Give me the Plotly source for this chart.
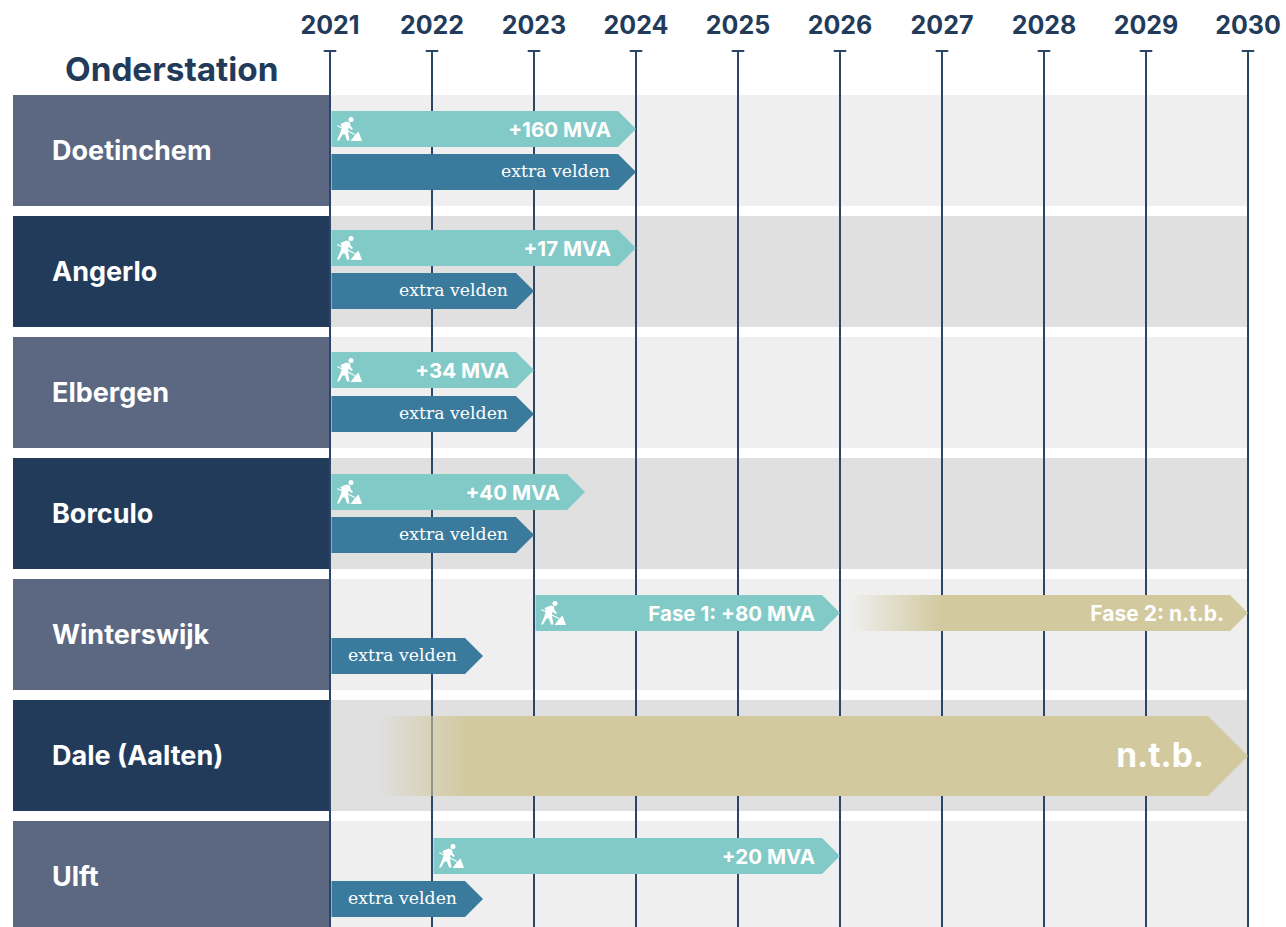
import plotly.graph_objects as go

# ---------- data ----------
years = list(range(2021, 2031))
stations = ["Doetinchem", "Angerlo", "Elbergen", "Borculo", "Winterswijk", "Dale (Aalten)", "Ulft"]

capacity_rows = [0, 1, 2, 3, 4, 6]
capacity_start = [2021, 2021, 2021, 2021, 2023, 2022]
capacity_end = [2024, 2024, 2023, 2023.5, 2026, 2026]
capacity_label = ["+160 MVA", "+17 MVA", "+34 MVA", "+40 MVA", "Fase 1: +80 MVA", "+20 MVA"]

field_rows = [0, 1, 2, 3, 4, 6]
field_start = [2021, 2021, 2021, 2021, 2021, 2021]
field_end = [2024, 2023, 2023, 2023, 2022.5, 2022.5]
field_label = "extra velden"

open_rows = [4, 5]
open_start = [2026.1, 2021.45]
open_end = [2030, 2030]
open_label = ["Fase 2: n.t.b.", "n.t.b."]

# ---------- layout constants ----------
PX = 102.0
X0 = 330.0
W, H, TOP = 1286, 927, 50
ROW_TOP = [95, 216, 337, 458, 579, 700, 821]
ROW_H = 111
CAP_TOP = [111, 230, 352, 474, 595, 716, 838]
FIELD_TOP = [154, 273, 396, 517, 638, 0, 881]
NAVY = "#233b5a"
LINE = "#2b4666"
SLATE = "#5c6882"
TEAL = "#82cac7"
BLUE = "#3a7a9c"
GOLD = "#d2c99f"
BOLD = "Inter"
SERIF = "DejaVu Serif"


def yr(px):
    return 2021 + (px - X0) / PX


def arrow(start, end, top, h, tip, pad=1.5):
    x0 = start + pad / PX
    x1 = end - tip / PX
    return [x0, x1, end, x1, x0, x0], [top, top, top + h / 2, top + h, top + h, top]


fig = go.Figure()
shapes = []
for i, t in enumerate(ROW_TOP):
    shapes.append(dict(type="rect", layer="below", xref="x", yref="y", x0=yr(13), x1=2030, y0=t, y1=t + ROW_H,
                       line_width=0, fillcolor="#e0e0e0" if i % 2 else "#efefef"))

# top caps of the year lines
fig.add_trace(go.Scatter(x=years, y=[TOP + 1] * len(years), mode="markers", cliponaxis=False,
                         marker=dict(symbol="line-ew", size=9, line=dict(color=LINE, width=2)), hoverinfo="skip"))


def add_bar(start, end, top, h, tip, color, fade=None):
    xs, ys = arrow(start, end, top, h, tip)
    kw = dict(fillcolor=color)
    if fade:
        kw = dict(fillgradient=dict(type="horizontal", start=start, stop=start + fade,
                                    colorscale=[[0, "rgba(210,201,159,0)"], [1, "rgba(210,201,159,1)"]]))
    fig.add_trace(go.Scatter(x=xs, y=ys, mode="lines", fill="toself", line=dict(width=0), hoverinfo="skip", **kw))


def add_text(x_px_right, y, text, family, size, weight="normal"):
    fig.add_trace(go.Scatter(x=[yr(x_px_right)], y=[y], mode="text", text=[text], textposition="middle left",
                             textfont=dict(family=family, size=size, color="white", weight=weight),
                             hoverinfo="skip", cliponaxis=False))


# worker icon, in pixels from the icon origin
FIG = [(10.5, 13), (16.5, 10.5), (20, 11.5), (20.5, 15), (23, 18), (21.5, 19), (18.5, 16.5), (18, 21), (19.5, 29.5),
       (17, 29.5), (15, 23.5), (12.5, 23.5), (9, 29.5), (7, 29.5), (10.5, 21), (12, 16.5), (10.5, 13)]
SHOVEL = [(7, 15), (7.5, 14), (25, 23), (24.5, 24), (7, 15)]
PILE = [(20.5, 30), (32, 30), (28.5, 20.5), (25, 24), (20.5, 30)]


def add_icon(start, top):
    xs, ys = [], []
    for poly in (FIG, SHOVEL, PILE):
        xs += [start + px / PX for px, _ in poly] + [None]
        ys += [top + py for _, py in poly] + [None]
    fig.add_trace(go.Scatter(x=xs, y=ys, mode="lines", fill="toself", line=dict(width=0), fillcolor="white",
                             hoverinfo="skip"))
    fig.add_trace(go.Scatter(x=[start + 21 / PX], y=[top + 8.5], mode="markers",
                             marker=dict(color="white", size=5), hoverinfo="skip"))


for r, s, e, lab in zip(capacity_rows, capacity_start, capacity_end, capacity_label):
    add_bar(s, e, CAP_TOP[r], 36, 18, TEAL)
    add_icon(s, CAP_TOP[r])
    add_text(X0 + (e - 2021) * PX - 25, CAP_TOP[r] + 20.5, lab, BOLD, 20.5, 700)

for r, s, e in zip(field_rows, field_start, field_end):
    add_bar(s, e, FIELD_TOP[r], 36, 18, BLUE)
    add_text(X0 + (e - 2021) * PX - 26, FIELD_TOP[r] + 18.5, field_label, SERIF, 17.3)

for r, s, e, lab in zip(open_rows, open_start, open_end, open_label):
    big = r == 5
    add_bar(s, e, CAP_TOP[r], 80 if big else 36, 40 if big else 18, GOLD, fade=0.9)
    add_text(X0 + (e - 2021) * PX - (44 if big else 24), CAP_TOP[r] + (43 if big else 20.5), lab, BOLD,
             33.5 if big else 21, 700)

# station blocks, drawn over the start of the chart
for i, (t, name) in enumerate(zip(ROW_TOP, stations)):
    xs = [yr(13), yr(329), yr(329), yr(13), yr(13)]
    ys = [t, t, min(t + ROW_H, H), min(t + ROW_H, H), t]
    fig.add_trace(go.Scatter(x=xs, y=ys, mode="lines", fill="toself", line=dict(width=0),
                             fillcolor=NAVY if i % 2 else SLATE, hoverinfo="skip"))
    fig.add_trace(go.Scatter(x=[yr(52)], y=[t + 58], mode="text", text=[name], textposition="middle right",
                             textfont=dict(family=BOLD, size=27, color="white", weight=700), hoverinfo="skip"))

fig.add_trace(go.Scatter(x=[yr(65)], y=[73], mode="text", text=["Onderstation"], textposition="middle right",
                         textfont=dict(family=BOLD, size=33.3, color=NAVY, weight=700), hoverinfo="skip"))

fig.update_layout(
    width=W, height=H, margin=dict(l=0, r=0, t=TOP, b=0), showlegend=False,
    paper_bgcolor="white", plot_bgcolor="white", shapes=shapes,
    xaxis=dict(range=[yr(0), yr(W)], side="top", tickmode="array", tickvals=years, ticktext=[str(y) for y in years],
               showgrid=True, gridcolor=LINE, gridwidth=2, zeroline=False, showline=False, ticks="",
               tickfont=dict(family=BOLD, size=25, color=NAVY, weight=700), ticklabelstandoff=10, fixedrange=True),
    yaxis=dict(range=[H, TOP], visible=False, showgrid=False, zeroline=False, fixedrange=True),
)
fig.write_html("out.html", post_script="document.body.style.margin='0';document.body.style.overflow='hidden';",
               config={"displayModeBar": False})
